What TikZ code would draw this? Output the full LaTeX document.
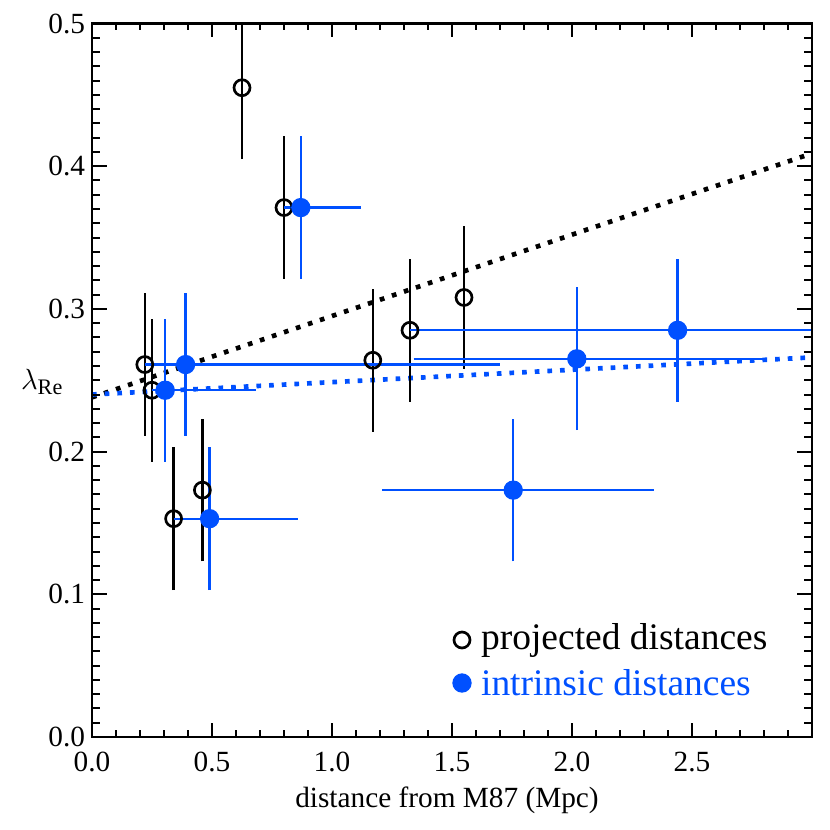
\documentclass[tikz,border=0pt]{standalone}
\usepackage{fontspec}
\setmainfont{Liberation Serif}
\definecolor{pblue}{RGB}{0,80,255}
\begin{document}
\begin{tikzpicture}[x=0.3mm,y=-0.3mm,line width=0.7mm,
  lbl/.style={font=\fontsize{25}{28}\selectfont},
  opencirc/.style={draw=black,fill=white,line width=0.8mm,circle,inner sep=0pt,minimum size=4.8mm},
  fillcirc/.style={fill=pblue,circle,inner sep=0pt,minimum size=5.8mm}]
\useasboundingbox (0,0) rectangle (830,830);
\begin{scope}[shift={(92,737)},x=72mm,y=428.1mm]
 \begin{scope}
 \clip (0,0) rectangle (3,0.5);
 \draw[black,line width=1.4mm,dash pattern=on 1.4mm off 2.4mm] (0,0.238) -- (3,0.409);
 \draw[pblue,dash pattern=on 1.4mm off 2.4mm,line width=1.4mm] (0,0.240) -- (3,0.266);
 \foreach \x/\y in {0.625/0.455,0.80/0.371,0.22/0.261,0.25/0.243,0.34/0.153,0.46/0.173,1.17/0.264,1.325/0.285,1.55/0.308}
   \draw[black] (\x,\y-0.05) -- (\x,\y+0.05);
 \foreach \x/\y/\a/\b in {0.87/0.371/0.80/1.12,0.39/0.261/0.22/1.70,0.305/0.243/0.25/0.683,0.49/0.153/0.34/0.86,1.755/0.173/1.21/2.34,2.02/0.265/1.34/2.81,2.44/0.285/1.325/3.0}
   {\draw[pblue] (\x,\y-0.05) -- (\x,\y+0.05);
    \draw[pblue] (\a,\y) -- (\b,\y);}
 \end{scope}
 \foreach \x/\y in {0.625/0.455,0.80/0.371,0.22/0.261,0.25/0.243,0.34/0.153,0.46/0.173,1.17/0.264,1.325/0.285,1.55/0.308}
   \node[opencirc,fill=none] at (\x,\y) {};
 \foreach \x/\y in {0.87/0.371,0.39/0.261,0.305/0.243,0.49/0.153,1.755/0.173,2.02/0.265,2.44/0.285}
   \node[fillcirc] at (\x,\y) {};
 \draw[line width=0.8mm] (0,0) rectangle (3,0.5);
 \foreach \i in {1,...,29} {\draw[line width=0.6mm] (\i/10,0) -- ++(0,2.1mm); \draw[line width=0.6mm] (\i/10,0.5) -- ++(0,-2.1mm);}
 \foreach \i in {1,...,5} {\draw[line width=0.6mm] (\i/2,0) -- ++(0,4.2mm); \draw[line width=0.6mm] (\i/2,0.5) -- ++(0,-4.2mm);}
 \foreach \i in {1,...,49} {\draw[line width=0.6mm] (0,\i/100) -- ++(2.4mm,0); \draw[line width=0.6mm] (3,\i/100) -- ++(-2.4mm,0);}
 \foreach \i in {1,...,4} {\draw[line width=0.6mm] (0,\i/10) -- ++(4.5mm,0); \draw[line width=0.6mm] (3,\i/10) -- ++(-4.5mm,0);}
 \foreach \l/\v in {0.0/0,0.5/0.5,1.0/1,1.5/1.5,2.0/2,2.5/2.5}
   \node[lbl,anchor=north] at (\v,-0.007) {\l};
 \foreach \l/\v in {0.0/0,0.1/0.1,0.2/0.2,0.3/0.3,0.4/0.4,0.5/0.5}
   \node[lbl,anchor=east] at (-0.008,\v) {\l};
\end{scope}
\node[lbl] (xl) at (447,800) {distance from M87 (Mpc)};
\node[font=\fontsize{27}{30}\selectfont] (yl) at (42,382) {$\lambda_{\mathrm{Re}}$};
\node[opencirc] (lc1) at (462,640) {};
\node[font=\fontsize{32}{35}\selectfont,anchor=west] (lt1) at (476,640) {projected distances};
\node[fillcirc] (lc2) at (462,683) {};
\node[font=\fontsize{32}{35}\selectfont,anchor=west,text=pblue] (lt2) at (476,683) {intrinsic distances};
\end{tikzpicture}
\end{document}
